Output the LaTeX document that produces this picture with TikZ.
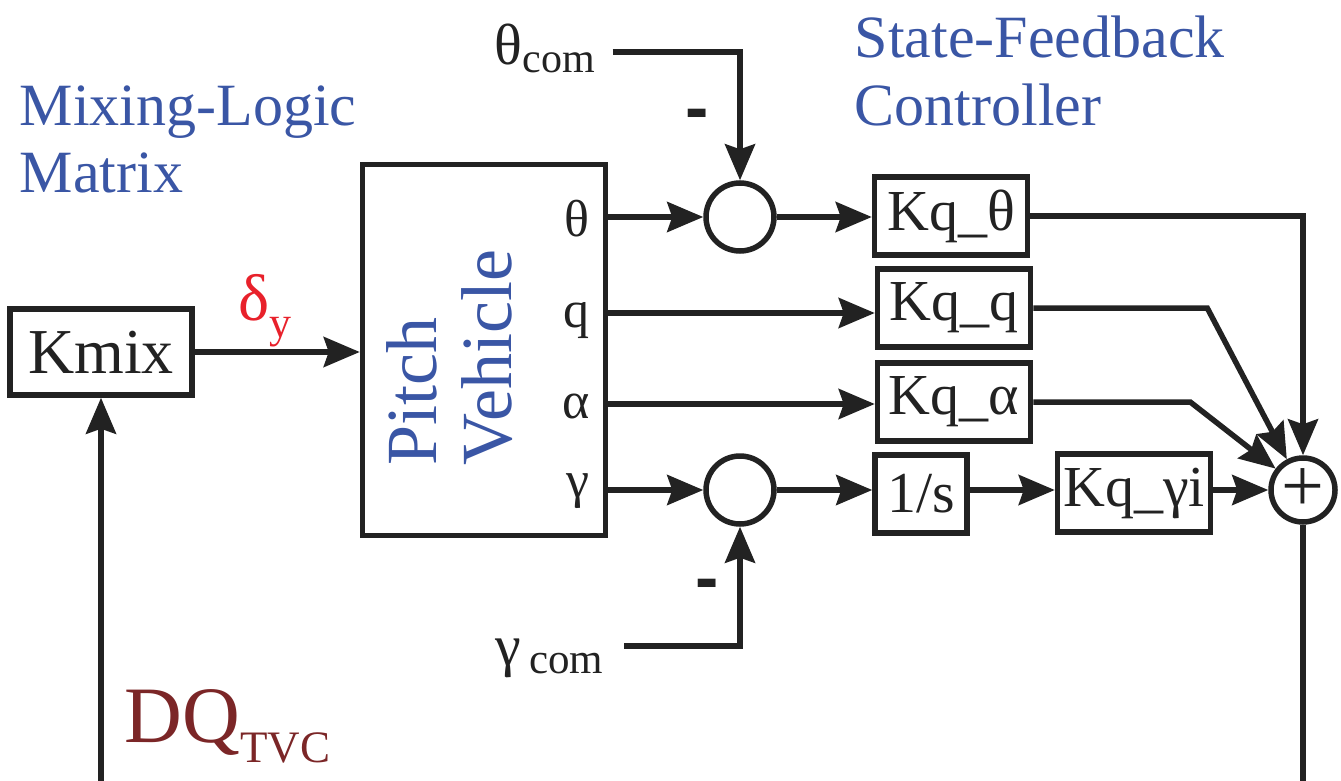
\documentclass[tikz,border=0pt]{standalone}
\usepackage{fontspec}
\setmainfont{Liberation Serif}
\newfontfamily\dashfont{Liberation Sans}
\usetikzlibrary{arrows.meta,calc}
\definecolor{ink}{HTML}{222222}
\definecolor{blu}{HTML}{3A56A5}
\definecolor{redd}{HTML}{E8212B}
\definecolor{maroon}{HTML}{7B2627}

\begin{document}
\begin{tikzpicture}[
  x=1pt, y=-1pt, color=ink, line width=5.5pt,
  box/.style={draw, rectangle, inner sep=0pt, minimum width=153pt, minimum height=78pt, font=\fontsize{58}{60}\selectfont},
  sumnode/.style={draw, circle, inner sep=0pt, minimum size=68pt},
  sig/.style={inner sep=0pt, font=\fontsize{52}{52}\selectfont},
  lbl/.style={inner sep=0pt, align=left, text=blu, font=\fontsize{60}{67}\selectfont},
  minus/.style={inner sep=0pt, font=\dashfont\bfseries\fontsize{70}{70}\selectfont},
  arr/.style={-{Stealth[length=36pt, width=30pt, inset=5pt]}}]
\useasboundingbox (0,0) rectangle (1341,781);
% mixing logic and plant
\node[box, minimum width=182pt, minimum height=86pt, font=\fontsize{64}{64}\selectfont] (kmix) at (101,352) {Kmix};
\node[lbl, anchor=base west] (mixlbl) at (17,192) {Mixing-Logic\\Matrix};
\node[inner sep=0pt, anchor=base west, text=redd, font=\fontsize{66}{66}\selectfont] (dlbl) at (236,320) {δ{\fontsize{44}{44}\selectfont\raisebox{-17pt}{y}}};
\node[inner sep=0pt, anchor=base west, text=maroon, font=\fontsize{80}{80}\selectfont] (dqlbl) at (122,742) {DQ{\fontsize{45}{45}\selectfont\raisebox{-20pt}{TVC}}};
\node[draw, rectangle, minimum width=243pt, minimum height=371pt] (plant) at (484,350) {};
\node[lbl, rotate=90, font=\fontsize{72}{75}\selectfont] (plantlbl) at (450,358) {Pitch\\Vehicle};
\node[sig, anchor=base east] (lth) at (592,236) {θ};
\node[sig, anchor=base east] (lq)  at (592,327) {q};
\node[sig, anchor=base east] (la)  at (592,418) {α};
\node[sig, anchor=base east] (lg)  at (592,497) {γ};
\coordinate (pth) at (608,217);
\coordinate (pq)  at (608,313);
\coordinate (pa)  at (608,404);
\coordinate (pg)  at (608,490);
% commands and error sums
\node[inner sep=0pt, anchor=base west, font=\fontsize{58}{58}\selectfont] (thcom) at (492,65) {θ{\fontsize{42}{42}\selectfont\raisebox{-8pt}{com}}};
\node[inner sep=0pt, anchor=base west, font=\fontsize{58}{58}\selectfont] (gcom) at (493,665) {γ\hspace{8pt}{\fontsize{43}{43}\selectfont\raisebox{-8pt}{com}}};
\node[minus] (minus1) at (697,120) {-};
\node[minus] (minus2) at (707,590) {-};
\node[sumnode] (sum1) at (740,217) {};
\node[sumnode] (sum2) at (740,490) {};
% state-feedback controller
\node[lbl, anchor=base west] (sfclbl) at (852,125) {State-Feedback\\Controller};
\node[box] (kth) at (951,216) {Kq\_θ};
\node[box] (kq)  at (954,308) {Kq\_q};
\node[box] (ka)  at (954,402) {Kq\_α};
\node[box, minimum width=92pt, minimum height=78pt] (integ) at (921,494) {1/s};
\node[box] (kgi) at (1134,493) {Kq\_γi};
\node[sumnode, minimum size=64pt, font=\fontsize{76}{76}\selectfont] (sumout) at (1303,490) {+};
\coordinate (dqin)  at (101,781);
\coordinate (fbout) at (1303,781);
% connectors
\draw[arr] (dqin) -- (kmix.south);
\draw[arr] (kmix.east) -- (kmix.east -| plant.west);
\draw[arr] (pth) -- (sum1.west);
\draw[arr] (pq) -- (pq -| kq.west);
\draw[arr] (pa) -- (pa -| ka.west);
\draw[arr] (pg) -- (sum2.west);
\draw[arr] ([xshift=15pt,yshift=-3pt]thcom.east) -| (sum1.north);
\draw[arr] ([xshift=18pt,yshift=12pt]gcom.east) -| (sum2.south);
\draw[arr] (sum1.east) -- (sum1.east -| kth.west);
\draw[arr] (sum2.east) -- (sum2.east -| integ.west);
\draw[arr] (integ.east |- sum2) -- (sum2 -| kgi.west);
\draw[arr] (kgi.east |- sumout) -- (sumout.west);
\draw[arr] (kth.east) -| (sumout.north);
\draw[arr] (kq.east) -- ++(174,0) -- (sumout);
\draw[arr] (ka.east) -- ++(157,0) -- (sumout);
\draw (sumout.south) -- (fbout);
\end{tikzpicture}
\end{document}
